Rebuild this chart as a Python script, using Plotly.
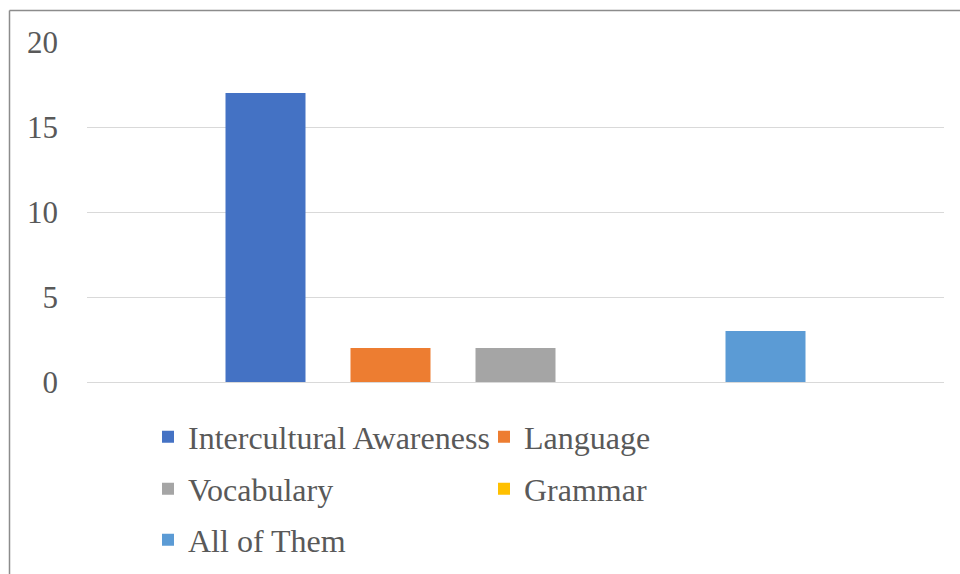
import plotly.graph_objects as go

category = [""]
series_names = ["Intercultural Awareness", "Language", "Vocabulary", "Grammar", "All of Them"]
series_values = [17, 2, 2, 0, 3]
series_colors = ["#4472C4", "#ED7D31", "#A5A5A5", "#FFC000", "#5B9BD5"]
legend_ids = ["legend", "legend", "legend2", "legend2", "legend3"]
y_ticks = [0, 5, 10, 15, 20]

FONT = "Liberation Serif, Times New Roman, serif"
TXT = "#595959"

fig = go.Figure()
for name, val, col, lg in zip(series_names, series_values, series_colors, legend_ids):
    fig.add_trace(go.Bar(x=category, y=[val], name=name, marker=dict(color=col, line=dict(width=0)),
                         legend=lg))

W, H = 960, 574
L, R, T, B = 87, 16, 42, 192
ph = H - T - B
pw = W - L - R

def py(ypx):
    return (H - B - ypx) / ph

def px(xpx):
    return (xpx - L) / pw

leg_common = dict(orientation="h", font=dict(family=FONT, size=32, color=TXT),
                  entrywidth=291, entrywidthmode="pixels", xanchor="left", yanchor="middle",
                  bgcolor="rgba(0,0,0,0)", borderwidth=0, itemclick=False)

fig.update_layout(
    width=W, height=H,
    margin=dict(l=L, r=R, t=T, b=B, autoexpand=False),
    paper_bgcolor="white", plot_bgcolor="white",
    barmode="group", bargap=0.2707, bargroupgap=0.36,
    font=dict(family=FONT, size=31, color=TXT),
    legend=dict(x=px(148), y=py(437), **leg_common),
    legend2=dict(x=px(148), y=py(489), **leg_common),
    legend3=dict(x=px(148), y=py(540), **leg_common),
    xaxis=dict(showticklabels=False, showgrid=False, zeroline=False, showline=False, ticks="",
               automargin=False),
    yaxis=dict(range=[0, 20], tickvals=y_ticks, showgrid=True, gridcolor="#D9D9D9", gridwidth=1.3,
               zeroline=True, zerolinecolor="#D9D9D9", zerolinewidth=1.3, showline=False,
               ticks="", ticklabelstandoff=28, automargin=False,
               tickfont=dict(family=FONT, size=31, color=TXT)),
    shapes=[
        dict(type="line", xref="paper", yref="paper", x0=px(9.5), x1=px(W + 5), y0=py(10.5), y1=py(10.5),
             line=dict(color="#8C8C8C", width=1.5)),
        dict(type="line", xref="paper", yref="paper", x0=px(9.5), x1=px(9.5), y0=py(10.5), y1=py(H + 5),
             line=dict(color="#8C8C8C", width=1.5)),
    ],
)

fig.write_html("out.html")
